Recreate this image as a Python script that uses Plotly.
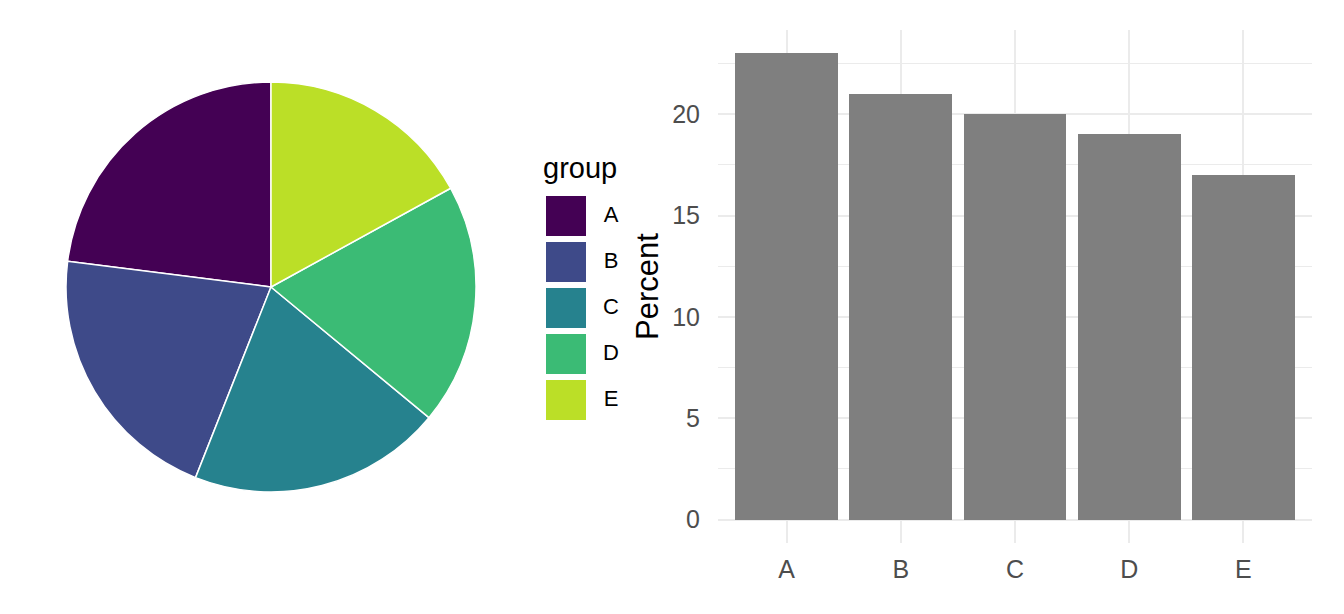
import plotly.graph_objects as go

groups = ["A", "B", "C", "D", "E"]
percent = [23, 21, 20, 19, 17]
colours = ["#440154", "#3E4A89", "#26828E", "#3BBB75", "#BBDF27"]
y_ticks = [0, 5, 10, 15, 20]

W, H = 1344, 614
OFF = 8  # page body margin
font = "Liberation Sans, Arial, sans-serif"


def fx(p):
    return (p - OFF) / W


def fy(p):
    return (H - (p - OFF)) / H


fig = go.Figure()

# pie: A starts at 12 o'clock and runs counterclockwise (coord_polar style).
# plotly's counterclockwise mode puts the END of the first slice at `rotation`,
# so shift back by the first slice's angle
first_angle = 360 * percent[0] / sum(percent)
fig.add_trace(go.Pie(
    labels=groups, values=percent, sort=False, direction="counterclockwise",
    rotation=-first_angle,
    marker=dict(colors=colours, line=dict(color="white", width=1.5)),
    textinfo="none", hoverinfo="label+value", showlegend=False,
    domain=dict(x=[fx(66), fx(476)], y=[fy(492), fy(82)]),
))

# bar chart
fig.add_trace(go.Bar(
    x=list(range(1, len(groups) + 1)), y=percent, width=0.9,
    marker=dict(color="#7f7f7f", line=dict(width=0)),
    xaxis="x", yaxis="y", showlegend=False,
))

# legend drawn as square markers on a hidden axis
idx = [-i for i in range(len(groups))]
fig.add_trace(go.Scatter(
    x=[0] * len(groups), y=idx, mode="markers",
    marker=dict(symbol="square", size=40, color=colours, line=dict(width=0)),
    xaxis="x3", yaxis="y3", showlegend=False, hoverinfo="skip",
))
fig.add_trace(go.Scatter(
    x=[1] * len(groups), y=idx, mode="text", text=groups,
    textfont=dict(family=font, size=22, color="black"),
    xaxis="x3", yaxis="y3", showlegend=False, hoverinfo="skip",
))

# legend axis: x=0 -> px 566, x=1 -> px 611; y=0 -> px 216, 46 px per step
lx0, lx1 = 530, 650
ly_top = (216 - OFF) / 46
grid = "#ebebeb"
fig.update_layout(
    width=W, height=H, margin=dict(l=0, r=0, t=0, b=0),
    paper_bgcolor="white", plot_bgcolor="white",
    font=dict(family=font),
    bargap=0,
    xaxis=dict(
        domain=[fx(718), fx(1312)], range=[0.4, 5.6],
        tickvals=list(range(1, len(groups) + 1)), ticktext=groups,
        showgrid=True, gridcolor=grid, gridwidth=2, zeroline=False,
        showline=False, ticks="", ticklabelstandoff=9,
        tickfont=dict(size=25, color="#4d4d4d"),
    ),
    yaxis=dict(
        domain=[fy(543), fy(30)], range=[-1.15, 24.15],
        tickvals=y_ticks, showgrid=True, gridcolor=grid, gridwidth=2,
        zeroline=False, showline=False, ticks="", ticklabelstandoff=17,
        tickfont=dict(size=25, color="#4d4d4d"),
        minor=dict(showgrid=True, gridcolor=grid, gridwidth=1, dtick=2.5, tick0=0),
        title=dict(text="Percent", font=dict(size=31, color="black"), standoff=4),
    ),
    xaxis3=dict(domain=[fx(lx0), fx(lx1)],
                range=[-(566 - lx0) / 45, (lx1 - 566) / 45], visible=False,
                fixedrange=True),
    yaxis3=dict(domain=[0, 1], range=[ly_top - H / 46, ly_top], visible=False,
                fixedrange=True, anchor="x3"),
    annotations=[dict(
        text="group", xref="paper", yref="paper", x=fx(541), y=fy(168),
        xanchor="left", yanchor="middle", showarrow=False,
        font=dict(family=font, size=29, color="black"),
    )],
)

fig.write_html("out.html")
